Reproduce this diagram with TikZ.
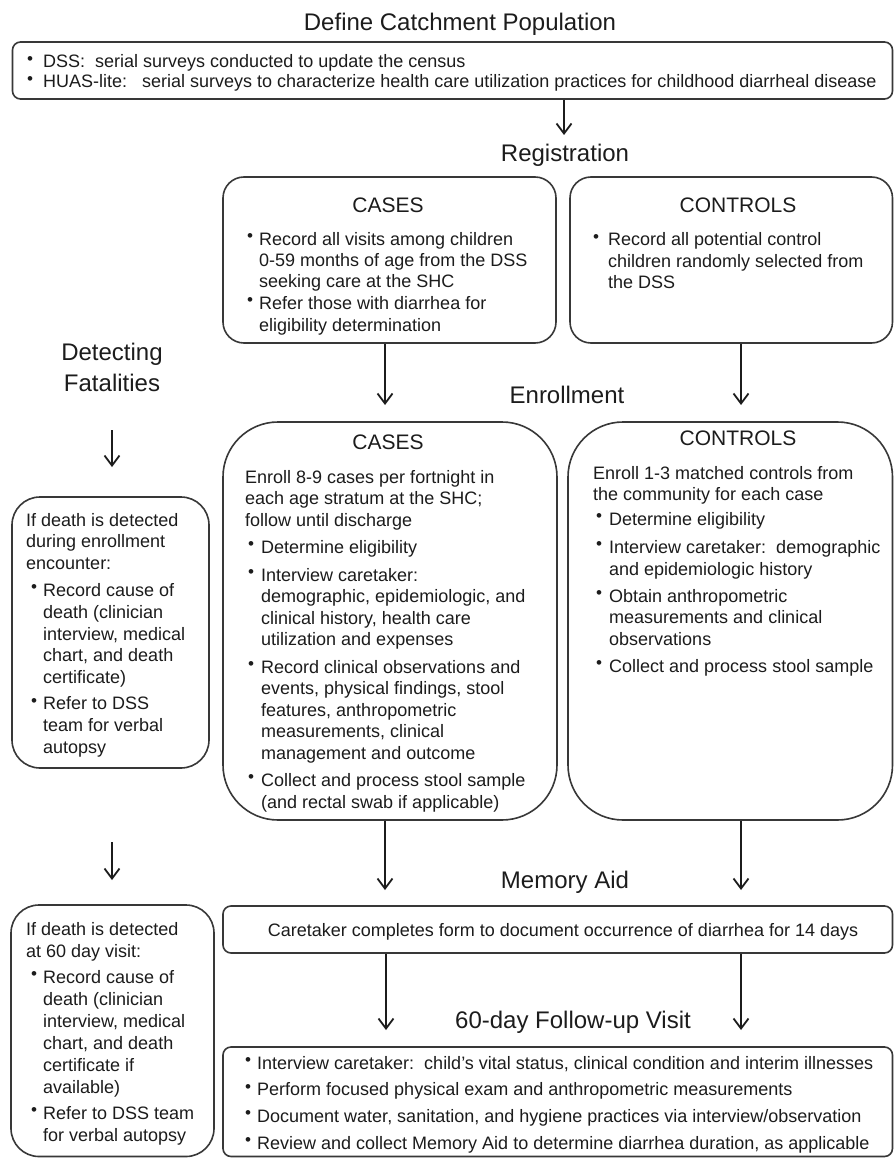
\documentclass[tikz,border=0pt]{standalone}
\usepackage{fontspec}
\setmainfont{Liberation Sans}
\usetikzlibrary{arrows.meta,fit}
\definecolor{ink}{HTML}{1C1C1C}
\definecolor{edge}{HTML}{383838}
\newlength{\bulw}\newlength{\buloff}
\newcommand{\bdot}{\raisebox{0.2em}{\scalebox{0.95}{\textbullet}}}
\newcommand{\bitem}{\makebox[\bulw][l]{\hspace{\buloff}\bdot}}
\newcommand{\bcont}{\hspace*{\bulw}}
\tikzset{
  box/.style={draw=edge, line width=1.6pt, inner sep=0pt},
  body/.style={inner sep=0pt, anchor=base west, text=ink, font=\fontsize{18}{21.5}\selectfont},
  head/.style={inner sep=0pt, anchor=base, text=ink, font=\fontsize{24}{31}\selectfont},
  sub/.style={inner sep=0pt, anchor=base, text=ink, font=\fontsize{21}{25}\selectfont},
  arr/.style={draw=ink, line width=1.8pt, -{Straight Barb[length=10pt,width=15pt]}}
}
\begin{document}
\begin{tikzpicture}[x=1pt,y=-1pt]
\fill[white] (0,0) rectangle (894,1158);
\useasboundingbox (0,0) rectangle (894,1158);

% ---------- boxes ----------
\node[box, rounded corners=8pt,  fit={(12.5,42) (892.5,99)}] (top) {};
\node[box, rounded corners=21pt, fit={(223,177) (556,343)}] (regCases) {};
\node[box, rounded corners=21pt, fit={(570,177) (892.5,343)}] (regCtrl) {};
\node[box, rounded corners=55pt, fit={(223,422) (557,820)}] (enCases) {};
\node[box, rounded corners=55pt, fit={(568,422) (892.5,820)}] (enCtrl) {};
\node[box, rounded corners=28pt, fit={(12,497) (209,768)}] (left1) {};
\node[box, rounded corners=28pt, fit={(11,905) (214,1156.5)}] (left2) {};
\node[box, rounded corners=8pt,  fit={(223,906) (892.5,953)}] (memory) {};
\node[box, rounded corners=8pt,  fit={(223,1047) (892.5,1156.5)}] (follow) {};

% ---------- headings ----------
\node[head] (title) at (460,30.5) {Define Catchment Population};
\node[head] (regT) at (565,162) {Registration};
\node[head] (fatT) at (112,360) {\begin{tabular}[t]{@{}c@{}}Detecting\\Fatalities\end{tabular}};
\node[head] (enrT) at (567,403) {Enrollment};
\node[head] (memT) at (565,888) {Memory Aid};
\node[head] (folT) at (573,1028) {60-day Follow-up Visit};

\node[sub] (regCasesH) at (388,212.5) {CASES};
\node[sub] (regCtrlH) at (738,212.5) {CONTROLS};
\node[sub] (enCasesH) at (388,449.5) {CASES};
\node[sub] (enCtrlH) at (738,445.5) {CONTROLS};

% ---------- body texts ----------
\node[body, font=\fontsize{18}{20}\selectfont] (topT) at (27,68) {\setlength{\bulw}{16pt}\setlength{\buloff}{0pt}%
\begin{tabular}[t]{@{}l@{}}
\bitem DSS:\ \ serial surveys conducted to update the census\\
\bitem HUAS-lite:\ \ \ serial surveys to characterize health care utilization practices for childhood diarrheal disease
\end{tabular}};

\node[body] (regCasesT) at (247,245) {\setlength{\bulw}{12pt}\setlength{\buloff}{0pt}%
\begin{tabular}[t]{@{}l@{}}
\bitem Record all visits among children\\
\bcont 0-59 months of age from the DSS\\
\bcont seeking care at the SHC\\
\bitem Refer those with diarrhea for\\
\bcont eligibility determination
\end{tabular}};

\node[body] (regCtrlT) at (593,246) {\setlength{\bulw}{15pt}\setlength{\buloff}{0pt}%
\begin{tabular}[t]{@{}l@{}}
\bitem Record all potential control\\
\bcont children randomly selected from\\
\bcont the DSS
\end{tabular}};

\node[body] (enCasesT) at (245,483) {\setlength{\bulw}{16pt}\setlength{\buloff}{3pt}%
\begin{tabular}[t]{@{}l@{}}
Enroll 8-9 cases per fortnight in\\
each age stratum at the SHC;\\
follow until discharge\\[6pt]
\bitem Determine eligibility\\[6pt]
\bitem Interview caretaker:\\
\bcont demographic, epidemiologic, and\\
\bcont clinical history, health care\\
\bcont utilization and expenses\\[6pt]
\bitem Record clinical observations and\\
\bcont events, physical findings, stool\\
\bcont features, anthropometric\\
\bcont measurements, clinical\\
\bcont management and outcome\\[6pt]
\bitem Collect and process stool sample\\
\bcont (and rectal swab if applicable)
\end{tabular}};

\node[body] (enCtrlT) at (593,479) {\setlength{\bulw}{16pt}\setlength{\buloff}{3pt}%
\begin{tabular}[t]{@{}l@{}}
Enroll 1-3 matched controls from\\
the community for each case\\[3.5pt]
\bitem Determine eligibility\\[6.5pt]
\bitem Interview caretaker:\ \ demographic\\
\bcont and epidemiologic history\\[5.5pt]
\bitem Obtain anthropometric\\
\bcont measurements and clinical\\
\bcont observations\\[5.5pt]
\bitem Collect and process stool sample
\end{tabular}};

\node[body, font=\fontsize{18}{21.8}\selectfont] (left1T) at (26,526) {\setlength{\bulw}{17pt}\setlength{\buloff}{5pt}%
\begin{tabular}[t]{@{}l@{}}
If death is detected\\
during enrollment\\
encounter:\\[5pt]
\bitem Record cause of\\
\bcont death (clinician\\
\bcont interview, medical\\
\bcont chart, and death\\
\bcont certificate)\\[4.5pt]
\bitem Refer to DSS\\
\bcont team for verbal\\
\bcont autopsy
\end{tabular}};

\node[body, font=\fontsize{18}{22}\selectfont] (left2T) at (26,935) {\setlength{\bulw}{17pt}\setlength{\buloff}{5pt}%
\begin{tabular}[t]{@{}l@{}}
If death is detected\\
at 60 day visit:\\[4pt]
\bitem Record cause of\\
\bcont death (clinician\\
\bcont interview, medical\\
\bcont chart, and death\\
\bcont certificate if\\
\bcont available)\\[4pt]
\bitem Refer to DSS team\\
\bcont for verbal autopsy
\end{tabular}};

\node[body, anchor=base] (memText) at (563,936) {Caretaker completes form to document occurrence of diarrhea for 14 days};

\node[body] (followT) at (245,1069) {\setlength{\bulw}{12pt}\setlength{\buloff}{0pt}%
\begin{tabular}[t]{@{}l@{}}
\bitem Interview caretaker:\ \ child's vital status, clinical condition and interim illnesses\\[5.2pt]
\bitem Perform focused physical exam and anthropometric measurements\\[5.2pt]
\bitem Document water, sanitation, and hygiene practices via interview/observation\\[5.2pt]
\bitem Review and collect Memory Aid to determine diarrhea duration, as applicable
\end{tabular}};

% ---------- connectors ----------
\coordinate (a0) at (564,135);
\draw[arr] (top.south -| a0) -- (a0);
\coordinate (a1) at (385,405);
\draw[arr] (regCases.south -| a1) -- (a1);
\coordinate (a2) at (741,405);
\draw[arr] (regCtrl.south -| a2) -- (a2);
\coordinate (f1s) at (112,430);
\coordinate (f1e) at (112,467);
\draw[arr] (f1s) -- (f1e);
\coordinate (a3) at (385,890);
\draw[arr] (enCases.south -| a3) -- (a3);
\coordinate (a4) at (741,890);
\draw[arr] (enCtrl.south -| a4) -- (a4);
\coordinate (f2s) at (112,842);
\coordinate (f2e) at (112,880);
\draw[arr] (f2s) -- (f2e);
\coordinate (a5) at (386,1030);
\draw[arr] (memory.south -| a5) -- (a5);
\coordinate (a6) at (741,1030);
\draw[arr] (memory.south -| a6) -- (a6);
\end{tikzpicture}
\end{document}
